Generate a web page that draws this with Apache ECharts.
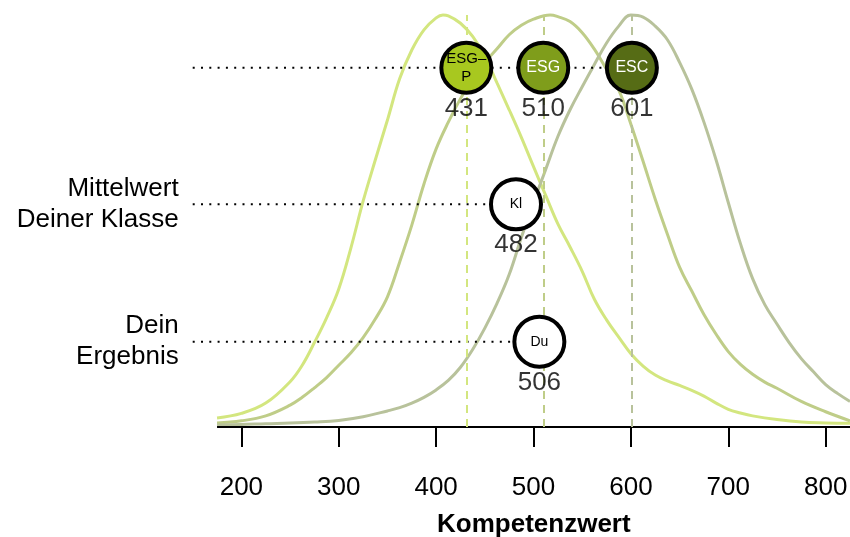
<!DOCTYPE html>
<html>
<head>
<meta charset="utf-8">
<script src="https://cdn.jsdelivr.net/npm/echarts@6/dist/echarts.min.js"></script>
<style>
  html, body { margin: 0; padding: 0; background: #fff; }
  #chart { width: 850px; height: 537px; }
</style>
</head>
<body>
<div id="chart"></div>
<script>
// Dichtekurven: [Kompetenzwert, relative Dichte (Maximum = 1)]
const curveESGP = [
  [175, 0.022], [200, 0.033], [225, 0.058], [250, 0.110], [262.5, 0.150], [275, 0.205],
  [287.5, 0.265], [300, 0.335], [312.5, 0.435], [325, 0.548], [337.5, 0.648], [350, 0.745],
  [362.5, 0.845], [375, 0.915], [387.5, 0.964], [400, 0.993], [407, 1.0], [412.5, 0.998],
  [425, 0.980], [437.5, 0.948], [450, 0.900], [462.5, 0.835], [475, 0.770], [487.5, 0.703],
  [500, 0.632], [512.5, 0.562], [525, 0.493], [537.5, 0.437], [550, 0.378], [562.5, 0.310],
  [575, 0.260], [587.5, 0.218], [600, 0.178], [612.5, 0.148], [625, 0.126], [637.5, 0.112],
  [650, 0.101], [662.5, 0.089], [675, 0.075], [687.5, 0.058], [700, 0.043], [712.5, 0.034],
  [725, 0.027], [750, 0.018], [775, 0.012], [800, 0.010], [825, 0.009]
];
const curveESG = [
  [175, 0.010], [200, 0.015], [225, 0.027], [250, 0.053], [262.5, 0.072], [275, 0.095],
  [287.5, 0.120], [300, 0.150], [312.5, 0.180], [325, 0.217], [337.5, 0.262], [350, 0.316],
  [362.5, 0.400], [375, 0.490], [387.5, 0.590], [400, 0.675], [412.5, 0.740], [425, 0.797],
  [437.5, 0.845], [450, 0.885], [462.5, 0.918], [475, 0.952], [487.5, 0.975], [500, 0.990],
  [517, 1.0], [525, 0.996], [537.5, 0.984], [550, 0.957], [562.5, 0.917], [575, 0.868],
  [587.5, 0.818], [600, 0.735], [612.5, 0.645], [625, 0.553], [637.5, 0.468], [650, 0.388],
  [662.5, 0.330], [675, 0.273], [687.5, 0.225], [700, 0.183], [712.5, 0.152], [725, 0.128],
  [737.5, 0.109], [750, 0.094], [775, 0.062], [800, 0.037], [825, 0.015]
];
const curveESC = [
  [175, 0.005], [200, 0.006], [225, 0.008], [250, 0.0095], [275, 0.012], [300, 0.016],
  [325, 0.025], [350, 0.039], [362.5, 0.047], [375, 0.058], [387.5, 0.072], [400, 0.090],
  [412.5, 0.113], [425, 0.145], [437.5, 0.188], [450, 0.240], [462.5, 0.300], [475, 0.370],
  [487.5, 0.460], [500, 0.545], [512.5, 0.625], [525, 0.705], [537.5, 0.770], [550, 0.826],
  [562.5, 0.880], [575, 0.932], [587.5, 0.973], [600, 1.0], [612.5, 0.995], [625, 0.973],
  [637.5, 0.940], [650, 0.885], [662.5, 0.820], [675, 0.740], [687.5, 0.648], [700, 0.545],
  [712.5, 0.445], [725, 0.360], [737.5, 0.297], [750, 0.250], [762.5, 0.205], [775, 0.166],
  [787.5, 0.134], [800, 0.103], [812.5, 0.081], [825, 0.062]
];

// Mittelwerte der Vergleichsgruppen, Klasse und eigenes Ergebnis
const meanNames = ['ESG–\nP', 'ESG', 'ESC'];
const meanValues = [431, 510, 601];
const className = 'Kl';
const classValue = 482;
const ownName = 'Du';
const ownValue = 506;

const xTicks = [200, 300, 400, 500, 600, 700, 800];
const rowLabels = ['', 'Mittelwert\nDeiner Klasse', 'Dein\nErgebnis'];

// Layout / Stil
const axisFrom = 175;
const axisTo = 825;
const leaderStart = 150;
const rowLevels = [0.872, 0.5405, 0.207]; // Hoehe der drei Zeilen
const curveColors = ['#d3e67f', '#bfcd88', '#b8c29b'];
const circleFills = ['#a8c81f', '#7f9d1b', '#566c15', '#ffffff', '#ffffff'];
const circleText = ['#000', '#fff', '#fff', '#000', '#000'];
const circleFont = [15, 16, 16, 14, 14];
const font = 'Liberation Sans, Arial, sans-serif';

const myChart = echarts.init(document.getElementById('chart'));

const curves = [curveESGP, curveESG, curveESC];
const curveSeries = curves.map((c, i) => ({
  type: 'line',
  data: c,
  smooth: 0.4,
  showSymbol: false,
  clip: false,
  silent: true,
  z: 2,
  lineStyle: { color: curveColors[i], width: 3 },
  markLine: {
    silent: true,
    symbol: 'none',
    label: { show: false },
    lineStyle: { color: curveColors[i], type: [8, 6], width: 2 },
    data: [{ xAxis: meanValues[i] }]
  }
}));

// Achsenlinie (beginnt erst bei axisFrom, links davon stehen die Punktlinien)
const baseline = {
  type: 'line',
  data: [[axisFrom, 0], [axisTo, 0]],
  symbol: 'none',
  clip: false,
  silent: true,
  z: 4,
  lineStyle: { color: '#000', width: 2 }
};

const leaderEnds = [Math.max(...meanValues), classValue, ownValue];
const leaderSeries = rowLevels.map((lvl, i) => ({
  type: 'line',
  data: [[leaderStart, lvl], [leaderEnds[i], lvl]],
  clip: false,
  silent: true,
  z: 3,
  symbol: 'circle',
  symbolSize: 0,
  showSymbol: true,
  lineStyle: { color: '#000', width: 2, type: [2, 6.3] },
  label: {
    show: true,
    position: 'left',
    distance: 14,
    align: 'right',
    color: '#000',
    fontFamily: font,
    fontSize: 26,
    lineHeight: 31,
    formatter: (p) => (p.dataIndex === 0 ? rowLabels[i] : '')
  }
}));

const circleNames = [...meanNames, className, ownName];
const circleValues = [...meanValues, classValue, ownValue];
const circleRows = [0, 0, 0, 1, 2];
const circleData = circleNames.map((n, i) => ({
  name: n,
  value: [circleValues[i], rowLevels[circleRows[i]]],
  itemStyle: { color: circleFills[i] },
  label: { color: circleText[i], fontSize: circleFont[i] }
}));

const option = {
  animation: false,
  grid: { left: 192.7, right: 0, top: 15, bottom: 110, outerBoundsMode: 'none' },
  xAxis: {
    type: 'value',
    min: leaderStart,
    max: axisTo,
    name: 'Kompetenzwert',
    nameLocation: 'middle',
    nameGap: 85,
    nameTextStyle: {
      color: '#000', fontFamily: font, fontSize: 26, fontWeight: 'bold',
      padding: [0, 0, 0, 25]
    },
    splitLine: { show: false },
    axisLine: { show: false },
    axisTick: { customValues: xTicks, length: 20, lineStyle: { color: '#000', width: 2 } },
    axisLabel: { customValues: xTicks, margin: 48, color: '#000', fontFamily: font, fontSize: 26 }
  },
  yAxis: { type: 'value', min: 0, max: 1, show: false },
  series: [
    ...curveSeries,
    baseline,
    ...leaderSeries,
    {
      type: 'scatter',
      data: circleData,
      symbolSize: 50,
      silent: true,
      z: 5,
      itemStyle: { borderColor: '#000', borderWidth: 4, opacity: 1 },
      label: {
        show: true,
        position: 'inside',
        fontFamily: font,
        lineHeight: 18,
        formatter: (p) => p.name
      }
    },
    {
      type: 'scatter',
      data: circleData.map((d) => d.value),
      symbolSize: 50,
      silent: true,
      z: 6,
      itemStyle: { color: 'rgba(0,0,0,0)' },
      label: {
        show: true,
        position: 'bottom',
        distance: 3,
        color: '#000',
        fontFamily: font,
        fontSize: 26,
        formatter: (p) => p.value[0]
      }
    }
  ]
};

myChart.setOption(option);
</script>
</body>
</html>
